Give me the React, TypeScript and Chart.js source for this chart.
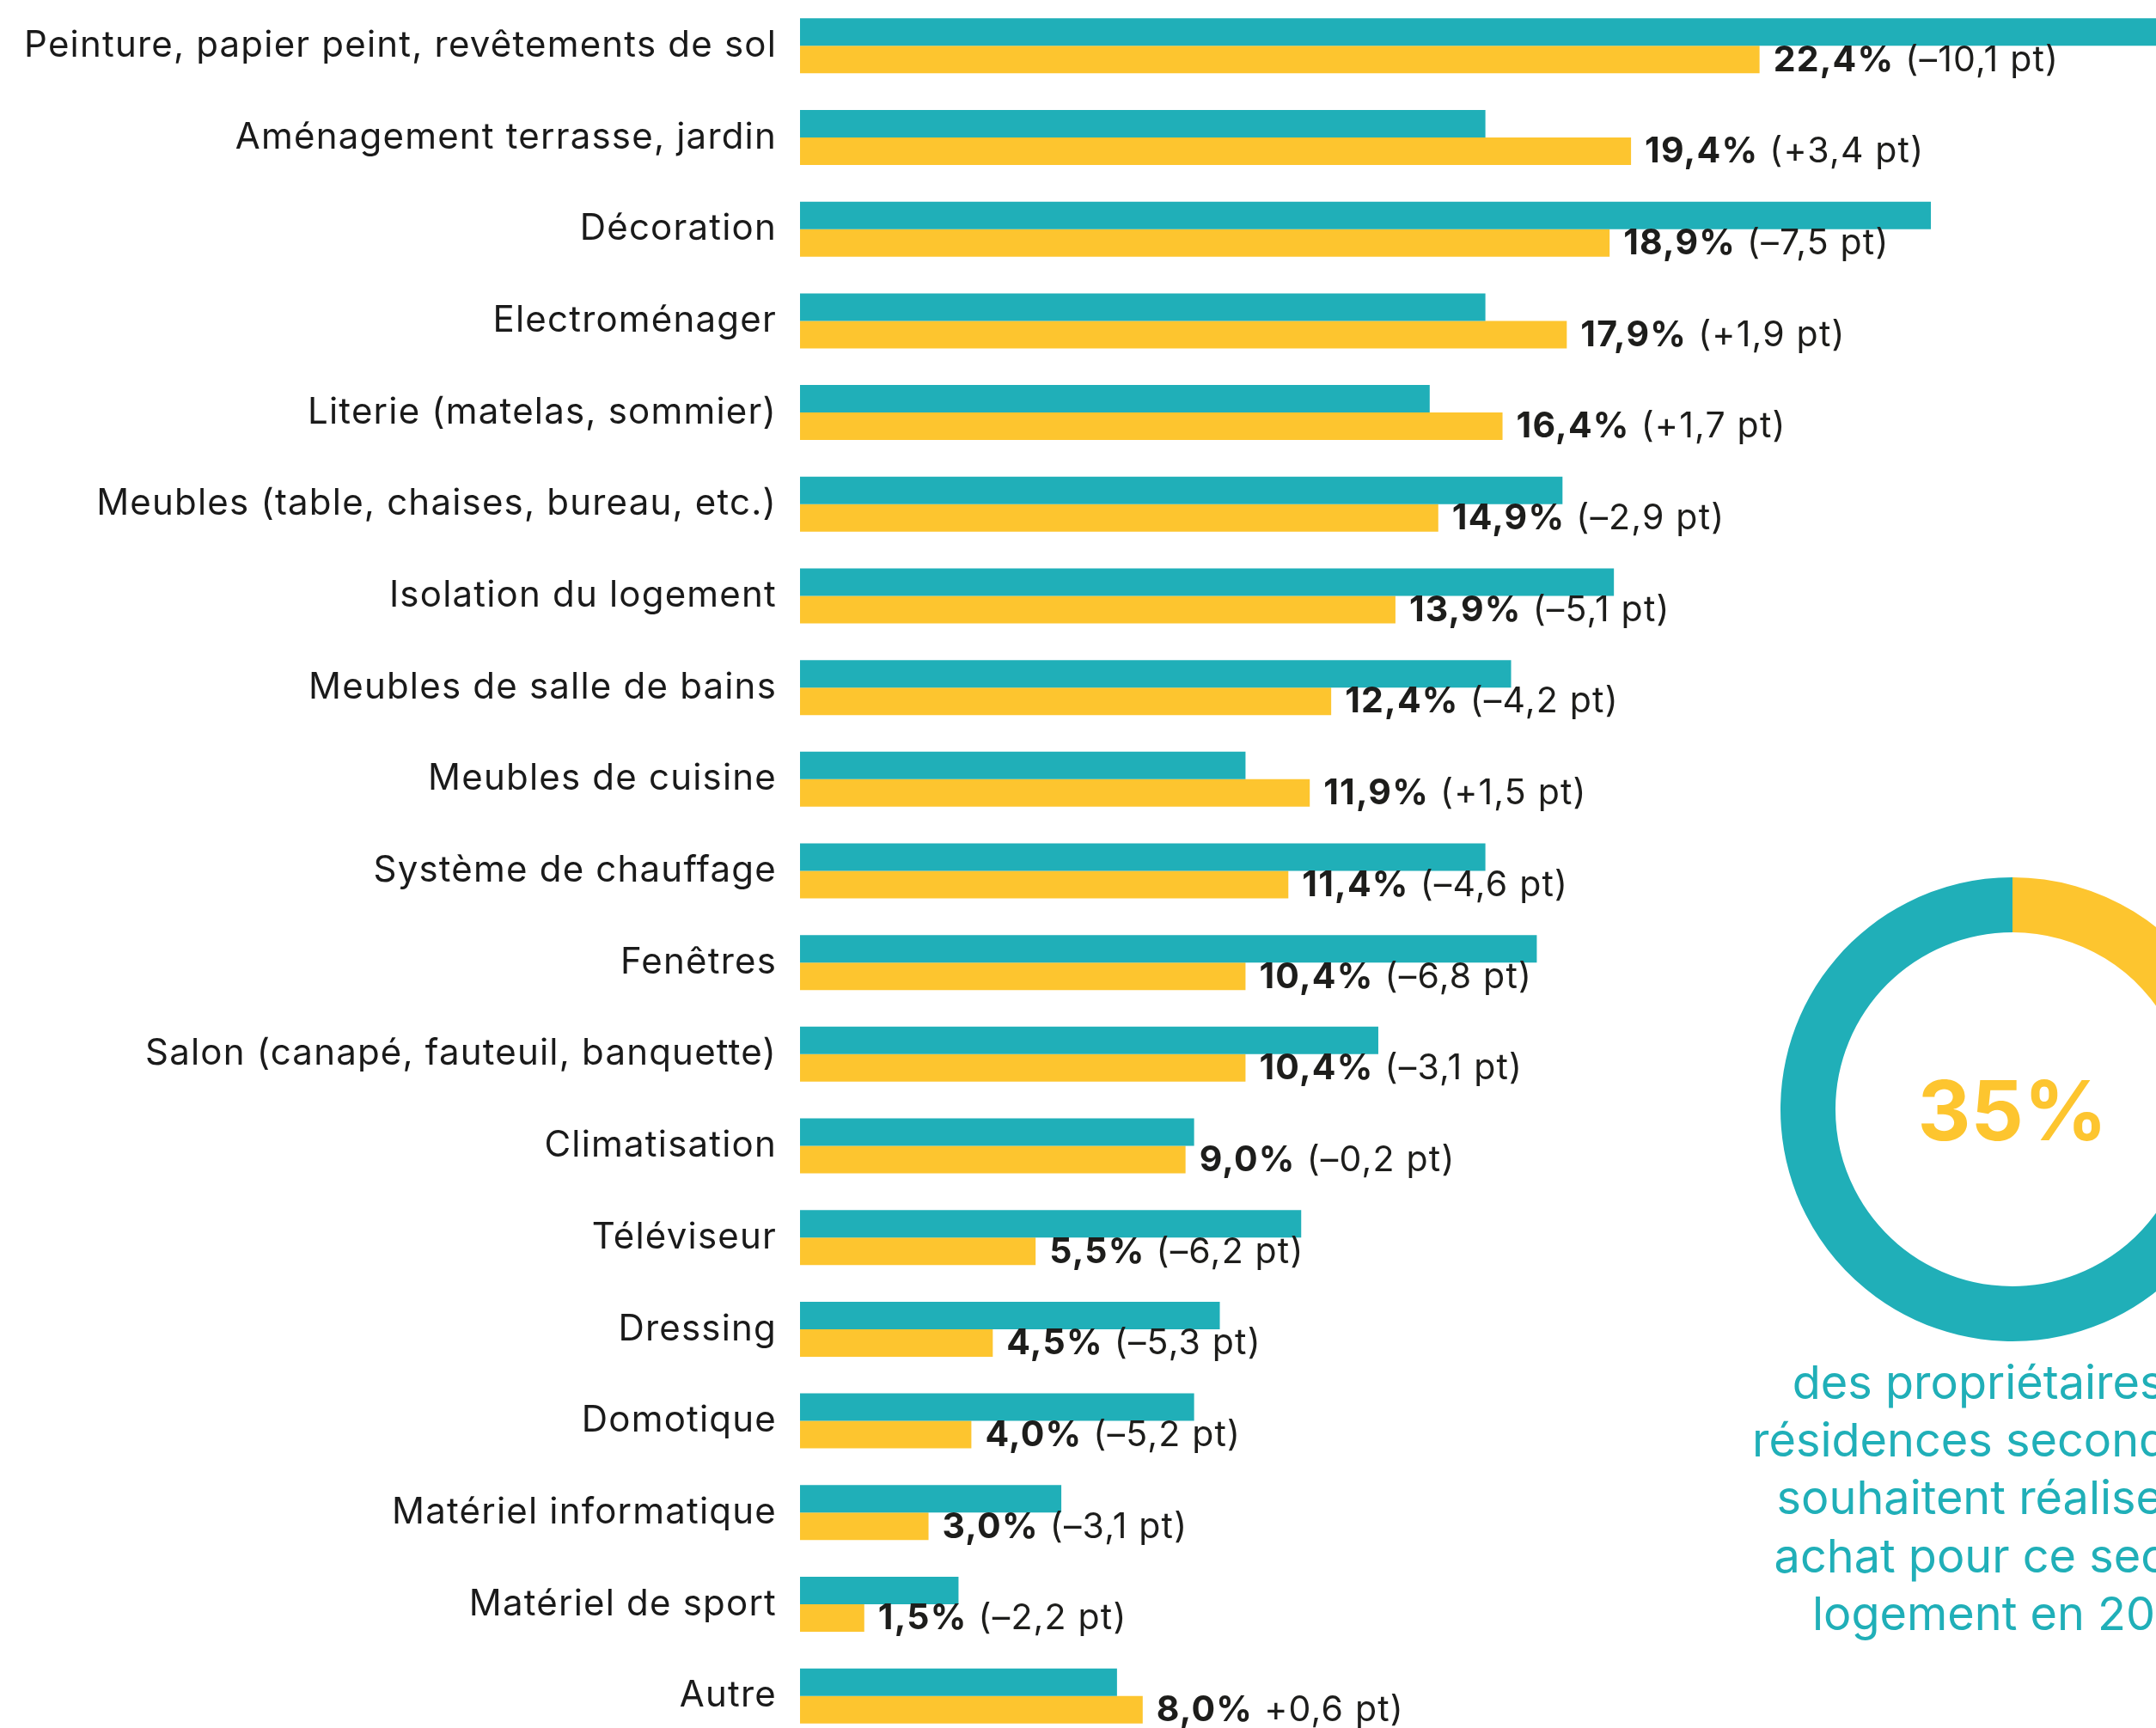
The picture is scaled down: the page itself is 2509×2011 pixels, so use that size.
import { useEffect, useRef } from "react";
import { Chart, registerables } from "chart.js";

Chart.register(...registerables);

const categories = [
  "Peinture, papier peint, revêtements de sol",
  "Aménagement terrasse, jardin",
  "Décoration",
  "Electroménager",
  "Literie (matelas, sommier)",
  "Meubles (table, chaises, bureau, etc.)",
  "Isolation du logement",
  "Meubles de salle de bains",
  "Meubles de cuisine",
  "Système de chauffage",
  "Fenêtres",
  "Salon (canapé, fauteuil, banquette)",
  "Climatisation",
  "Téléviseur",
  "Dressing",
  "Domotique",
  "Matériel informatique",
  "Matériel de sport",
  "Autre",
];

const previousValues = [32.5, 16.0, 26.4, 16.0, 14.7, 17.8, 19.0, 16.6, 10.4, 16.0, 17.2, 13.5, 9.2, 11.7, 9.8, 9.2, 6.1, 3.7, 7.4];
const currentValues = [22.4, 19.4, 18.9, 17.9, 16.4, 14.9, 13.9, 12.4, 11.9, 11.4, 10.4, 10.4, 9.0, 5.5, 4.5, 4.0, 3.0, 1.5, 8.0];
const changeLabels = [
  "(–10,1 pt)", "(+3,4 pt)", "(–7,5 pt)", "(+1,9 pt)", "(+1,7 pt)", "(–2,9 pt)",
  "(–5,1 pt)", "(–4,2 pt)", "(+1,5 pt)", "(–4,6 pt)", "(–6,8 pt)", "(–3,1 pt)",
  "(–0,2 pt)", "(–6,2 pt)", "(–5,3 pt)", "(–5,2 pt)", "(–3,1 pt)", "(–2,2 pt)", "+0,6 pt)",
];

const donutValues = [35, 65];
const donutLabel = "35%";
const captionLines = [
  "des propriétaires de",
  "résidences secondaires",
  "souhaitent réaliser un",
  "achat pour ce second",
  "logement en 2024",
];

const TEAL = "#20AFB8";
const YELLOW = "#FDC52F";
const TEXT = "#1d1d1b";
const FONT = "Inter";

const fmt = (v: number) => v.toFixed(1).replace(".", ",") + "%";

export default function App() {
  const barRef = useRef<HTMLCanvasElement>(null);
  const donutRef = useRef<HTMLCanvasElement>(null);

  useEffect(() => {
    const spacing = {
      id: "spacing",
      beforeDraw(chart: any) {
        try {
          chart.ctx.letterSpacing = "1.2px";
        } catch (e) {}
      },
    };

    const valueLabels = {
      id: "valueLabels",
      afterDatasetsDraw(chart: any) {
        const ctx = chart.ctx;
        const meta = chart.getDatasetMeta(1);
        ctx.save();
        ctx.textBaseline = "middle";
        ctx.textAlign = "left";
        meta.data.forEach((bar: any, i: number) => {
          const x = bar.x + 16;
          const y = bar.y + 1;
          ctx.fillStyle = TEXT;
          ctx.font = `700 41px ${FONT}`;
          const bold = fmt(currentValues[i]);
          ctx.fillText(bold, x, y);
          const w = ctx.measureText(bold).width;
          ctx.font = `400 41px ${FONT}`;
          ctx.fillText(changeLabels[i], x + w + 13, y);
        });
        ctx.restore();
      },
    };

    const bar = new Chart(barRef.current!, {
      type: "bar",
      data: {
        labels: categories,
        datasets: [
          { data: previousValues, backgroundColor: TEAL, categoryPercentage: 0.6, barPercentage: 1.0 },
          { data: currentValues, backgroundColor: YELLOW, categoryPercentage: 0.6, barPercentage: 1.0 },
        ],
      },
      options: {
        indexAxis: "y",
        responsive: false,
        animation: false,
        devicePixelRatio: 1,
        layout: { padding: 0 },
        plugins: { legend: { display: false }, tooltip: { enabled: false } },
        scales: {
          x: { type: "linear", min: 0, max: (2509 - 931) / 49.85, display: false },
          y: {
            type: "category",
            position: "left",
            grid: { display: false, drawTicks: false },
            border: { display: false },
            ticks: { autoSkip: false, padding: 27, color: "#1a1a1a", font: { family: FONT, size: 42, weight: "400" } },
            afterFit: (s: any) => {
              s.width = 931;
              s.paddingTop = 0;
              s.paddingBottom = 0;
            },
          },
        },
      },
      plugins: [spacing, valueLabels],
    } as any);

    const centerText = {
      id: "centerText",
      afterDraw(chart: any) {
        const ctx = chart.ctx;
        const cx = (chart.chartArea.left + chart.chartArea.right) / 2;
        ctx.save();
        ctx.textAlign = "center";
        ctx.textBaseline = "alphabetic";
        ctx.fillStyle = YELLOW;
        ctx.font = `700 96px ${FONT}`;
        ctx.fillText(donutLabel, cx, 306);
        ctx.fillStyle = TEAL;
        ctx.font = `400 54px ${FONT}`;
        captionLines.forEach((line, i) => {
          ctx.fillText(line, cx, 607 + i * 67.2);
        });
        ctx.restore();
      },
    };

    const donut = new Chart(donutRef.current!, {
      type: "doughnut",
      data: {
        labels: ["Oui", "Non"],
        datasets: [{ data: donutValues, backgroundColor: [YELLOW, TEAL], borderWidth: 0 }],
      },
      options: {
        responsive: false,
        animation: false,
        devicePixelRatio: 1,
        cutout: "76.3%",
        layout: { padding: { left: 180, right: 180, top: 0, bottom: 420 } },
        plugins: { legend: { display: false }, tooltip: { enabled: false } },
      },
      plugins: [centerText],
    } as any);

    return () => {
      bar.destroy();
      donut.destroy();
    };
  }, []);

  return (
    <div style={{ position: "fixed", left: 0, top: 0, width: 2509, height: 2011, overflow: "hidden", background: "#fff" }}>
      <canvas ref={barRef} width={2509} height={2027} style={{ position: "absolute", left: 0, top: 0, width: 2509, height: 2027 }} />
      <canvas ref={donutRef} width={900} height={960} style={{ position: "absolute", left: 1892, top: 1021, width: 900, height: 960 }} />
    </div>
  );
}
